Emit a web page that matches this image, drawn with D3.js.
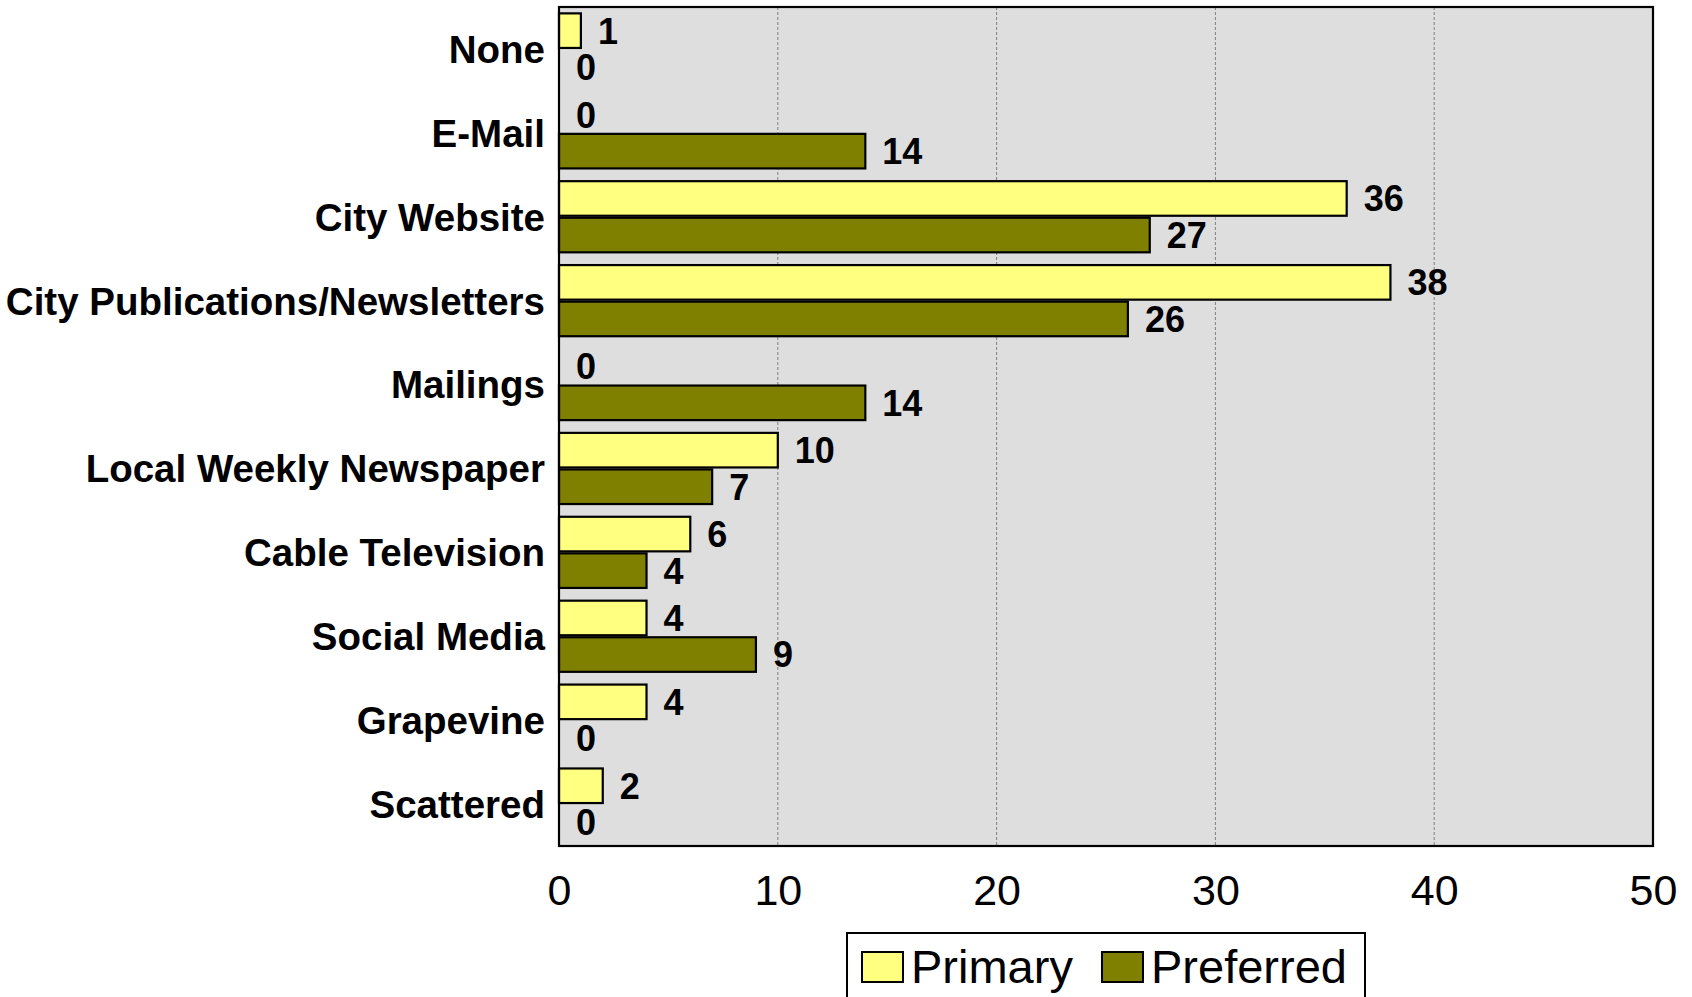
<!DOCTYPE html>
<html>
<head>
<meta charset="utf-8">
<script src="https://cdn.jsdelivr.net/npm/d3@7/dist/d3.min.js"></script>
<style>
  html, body { margin: 0; padding: 0; background: #ffffff; }
  svg { display: block; }
</style>
</head>
<body>
<svg id="chart" width="1692" height="997"></svg>
<script>
const categories = ["None", "E-Mail", "City Website", "City Publications/Newsletters", "Mailings",
  "Local Weekly Newspaper", "Cable Television", "Social Media", "Grapevine", "Scattered"];
const seriesNames = ["Primary", "Preferred"];
const primaryValues = [1, 0, 36, 38, 0, 10, 6, 4, 4, 2];
const preferredValues = [0, 14, 27, 26, 14, 7, 4, 9, 0, 0];
const xTicks = [0, 10, 20, 30, 40, 50];
const seriesColors = ["#FFFF80", "#808000"];

const svg = d3.select("#chart");
const font = "'Liberation Sans', Arial, Helvetica, sans-serif";
const plot = { left: 559, right: 1653, top: 7, bottom: 846 };

const x = d3.scaleLinear().domain([0, 50]).range([plot.left, plot.right]);
const y = d3.scaleBand().domain(categories).range([plot.top, plot.bottom])
  .paddingInner(0.128).paddingOuter(0.064);
const ySub = d3.scaleBand().domain(seriesNames).range([0, y.bandwidth()]);
const color = d3.scaleOrdinal().domain(seriesNames).range(seriesColors);

const rows = categories.map((c, i) => ({
  cat: c,
  vals: [{ s: "Primary", v: primaryValues[i] }, { s: "Preferred", v: preferredValues[i] }]
}));

// plot background
svg.append("rect")
  .attr("x", plot.left).attr("y", plot.top)
  .attr("width", plot.right - plot.left).attr("height", plot.bottom - plot.top)
  .attr("fill", "#DEDEDE");

// gridlines
svg.append("g").selectAll("line")
  .data(xTicks.filter(t => t > 0 && t < 50))
  .join("line")
  .attr("x1", d => x(d)).attr("x2", d => x(d))
  .attr("y1", plot.top).attr("y2", plot.bottom)
  .attr("stroke", "#808080").attr("stroke-width", 1)
  .attr("stroke-dasharray", "3,2");

// bars
const groups = svg.append("g").selectAll("g")
  .data(rows).join("g")
  .attr("transform", d => `translate(0,${y(d.cat)})`);

groups.selectAll("rect")
  .data(d => d.vals.filter(v => v.v > 0))
  .join("rect")
  .attr("x", x(0))
  .attr("y", d => ySub(d.s) + 1)
  .attr("width", d => x(d.v) - x(0))
  .attr("height", ySub.bandwidth() - 2)
  .attr("fill", d => color(d.s))
  .attr("stroke", "#000").attr("stroke-width", 2.2);

// value labels
groups.selectAll("text")
  .data(d => d.vals)
  .join("text")
  .attr("x", d => x(d.v) + 17)
  .attr("y", d => ySub(d.s) + ySub.bandwidth() / 2)
  .attr("dy", "0.36em")
  .attr("font-family", font).attr("font-weight", "bold")
  .attr("font-size", 36).attr("fill", "#000")
  .text(d => d.v);

// plot border
svg.append("rect")
  .attr("x", plot.left).attr("y", plot.top)
  .attr("width", plot.right - plot.left).attr("height", plot.bottom - plot.top)
  .attr("fill", "none").attr("stroke", "#000").attr("stroke-width", 2.2);

// y axis labels
const yAxis = svg.append("g")
  .attr("transform", `translate(${plot.left},0)`)
  .call(d3.axisLeft(y).tickSize(0).tickPadding(14));
yAxis.select(".domain").remove();
yAxis.selectAll("text")
  .attr("font-family", font).attr("font-weight", "bold")
  .attr("font-size", 38.5).attr("fill", "#000").attr("dy", "0.36em");

// x axis
const xAxis = svg.append("g")
  .attr("transform", `translate(0,${plot.bottom})`)
  .call(d3.axisBottom(x).tickValues(xTicks).tickSize(0).tickPadding(28).tickFormat(d3.format("d")));
xAxis.select(".domain").remove();
xAxis.selectAll("text")
  .attr("font-family", font).attr("font-size", 43).attr("fill", "#000");

// legend
const legend = svg.append("g");
legend.append("rect")
  .attr("x", 847).attr("y", 933).attr("width", 518).attr("height", 100)
  .attr("fill", "#fff").attr("stroke", "#000").attr("stroke-width", 2);
const legendX = d3.scalePoint().domain(seriesNames).range([862, 1102]);
const items = legend.selectAll("g.item").data(seriesNames).join("g").attr("class", "item")
  .attr("transform", d => `translate(${legendX(d)},952)`);
items.append("rect")
  .attr("width", 41).attr("height", 30)
  .attr("fill", d => color(d)).attr("stroke", "#000").attr("stroke-width", 2);
items.append("text")
  .attr("x", 49).attr("y", 31)
  .attr("font-family", font).attr("font-size", 47).attr("fill", "#000")
  .text(d => d);
</script>
</body>
</html>
